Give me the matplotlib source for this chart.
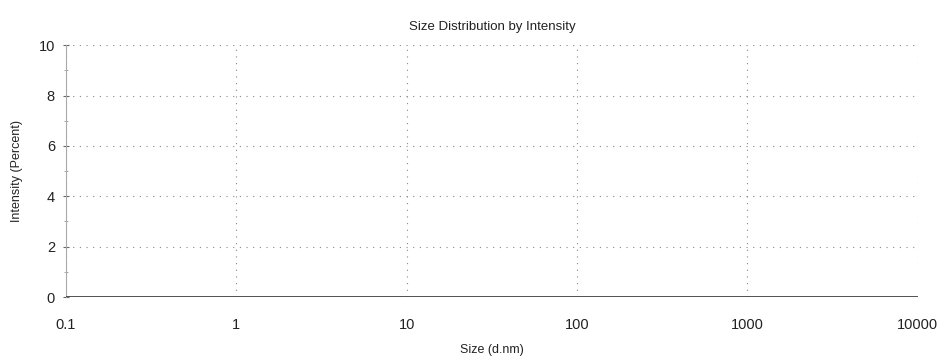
import matplotlib
matplotlib.use("Agg")
import matplotlib.pyplot as plt
from matplotlib.ticker import FixedLocator, NullLocator

plt.rcParams['font.family'] = ['Liberation Sans', 'DejaVu Sans']

sizes = [0.1, 0.4, 1, 2, 10, 100, 1000, 3000, 10000]
intensity = [0, 0, 0, 0, 0, 0, 0, 0, 0]
x_ticks = [0.1, 1, 10, 100, 1000, 10000]
x_labels = ["0.1", "1", "10", "100", "1000", "10000"]
y_ticks = [0, 2, 4, 6, 8, 10]

fig = plt.figure(figsize=(9.46, 3.64), dpi=100)
ax = fig.add_axes([0.0698, 0.184, 0.9002, 0.692])

ax.plot(sizes, intensity, color='#444444', linewidth=1.3, solid_capstyle='butt', zorder=3)
ax.set_xscale('log')
ax.set_xlim(0.1, 10000)
ax.set_ylim(0, 10)

ax.xaxis.set_major_locator(FixedLocator(x_ticks))
ax.xaxis.set_minor_locator(NullLocator())
ax.set_xticklabels(x_labels)
ax.yaxis.set_major_locator(FixedLocator(y_ticks))
ax.yaxis.set_minor_locator(FixedLocator([1, 3, 5, 7, 9]))

for s in ['top', 'right', 'bottom']:
    ax.spines[s].set_visible(False)
ax.spines['left'].set_color('#aaaaaa')
ax.spines['left'].set_linewidth(0.8)

ax.grid(True, which='major', linestyle=(0, (1, 5)), color='#888888', linewidth=0.8)
ax.tick_params(axis='x', length=0, labelsize=10.5, pad=15, colors='#222222')
ax.tick_params(axis='y', which='major', length=4, direction='inout', labelsize=10.5, pad=6, colors='#222222', color='#666666')
ax.tick_params(axis='y', which='minor', length=3, direction='inout', color='#999999')

ax.set_title("Size Distribution by Intensity", fontsize=9.5, color='#222222', pad=11)
ax.set_xlabel("Size (d.nm)", fontsize=9, color='#222222', labelpad=9)
ax.set_ylabel("Intensity (Percent)", fontsize=9, color='#222222', labelpad=11)

fig.savefig("out.png", dpi=100, facecolor='white')
